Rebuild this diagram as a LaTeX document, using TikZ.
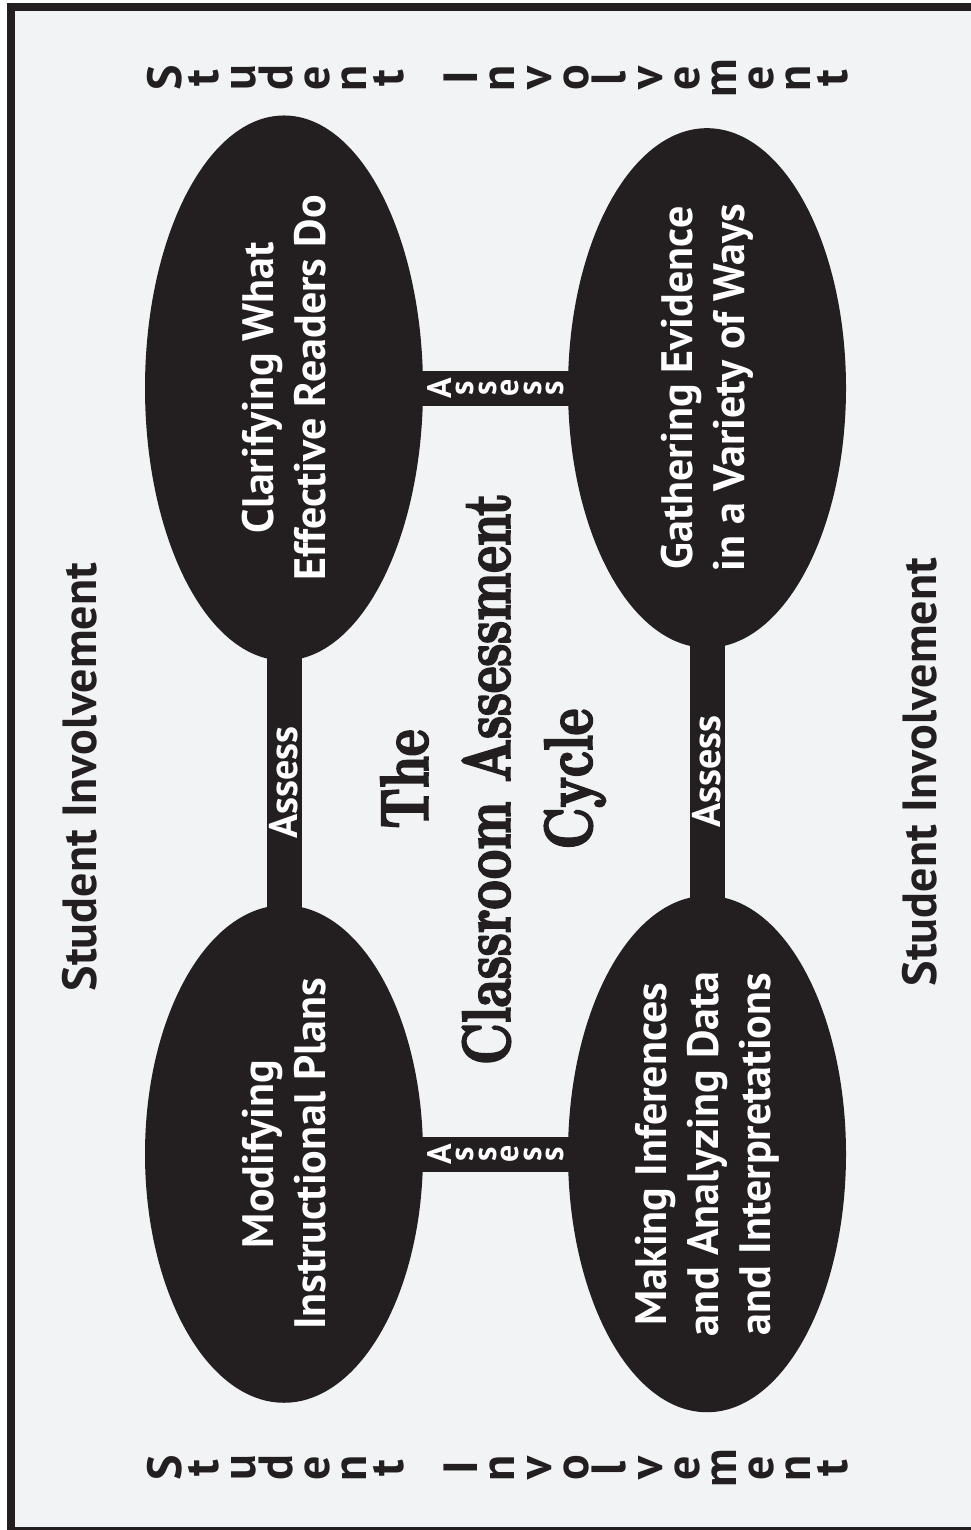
\documentclass[tikz,border=0pt]{standalone}
\usepackage{fontspec}
\usetikzlibrary{shapes.geometric}
\definecolor{ink}{HTML}{231F20}
\definecolor{paper}{HTML}{F2F3F5}
\newfontfamily\labelfont{PT Sans}
\newfontfamily\titlefont{lmroman10}[Extension=.otf, UprightFont=*-bold,
    FakeStretch=0.74, FakeBold=3]

\begin{document}
\begin{tikzpicture}[x=1pt,y=-1pt,
    sidelabel/.style={rotate=90, text=ink, inner sep=0pt,
        font=\labelfont\bfseries\fontsize{48}{50}\selectfont},
    stacklabel/.style={rotate=90, text=ink, inner sep=0pt, align=center,
        font=\labelfont\bfseries\fontsize{48}{37}\selectfont}]
\useasboundingbox (0,0) rectangle (970,1530);
\fill[white] (0,0) rectangle (970,1530);
\filldraw[fill=paper, draw=ink, line width=8pt] (10.5,7) rectangle (990,1531);

\begin{scope}[every node/.style={ellipse,fill=ink,text=white,inner sep=0pt,rotate=90,
                                 minimum width=486pt,minimum height=278pt,align=center,
                                 font=\labelfont\bfseries\fontsize{44}{52}\selectfont}]
    \node (C) at (284,388) {Clarifying What\\Effective Readers Do};
    \node (G) at (707,388) {Gathering Evidence\\in a Variety of Ways};
    \node (M) at (284,1154) {Modifying\\Instructional Plans};
    \node (I) at (707,1154) {Making Inferences\\and Analyzing Data\\and Interpretations};
\end{scope}

\begin{scope}[every node/.style={text=white,inner sep=0pt,rotate=90,
                                 font=\labelfont\bfseries\fontsize{40}{40}\selectfont},
              every edge/.style={draw=ink,line width=35pt,shorten <=-4pt,shorten >=-4pt}]
    \path (C) edge node {Assess} (M);
    \path (G) edge node {Assess} (I);
    \path (C) edge node[align=center,font=\labelfont\bfseries\fontsize{34}{22.5}\selectfont]
        {A\\s\\s\\e\\s\\s} (G);
    \path (M) edge node[align=center,font=\labelfont\bfseries\fontsize{34}{22.5}\selectfont]
        {A\\s\\s\\e\\s\\s} (I);
\end{scope}

\node[rotate=90, align=center, text=ink, font=\titlefont\fontsize{68}{82}\selectfont] (T)
    at (493,779) {The\\Classroom Assessment\\Cycle};

\node[sidelabel] (L1) at (80,777) {Student Involvement};
\node[sidelabel] (L2) at (920,772) {Student Involvement};
\node[stacklabel] (S1) at (497.5,78)
    {S\\t\\u\\d\\e\\n\\t\\~\\I\\n\\v\\o\\l\\v\\e\\m\\e\\n\\t};
\node[stacklabel] (S2) at (497.5,1468)
    {S\\t\\u\\d\\e\\n\\t\\~\\I\\n\\v\\o\\l\\v\\e\\m\\e\\n\\t};
\end{tikzpicture}
\end{document}
